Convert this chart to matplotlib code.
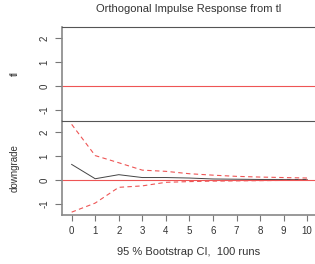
import matplotlib
matplotlib.use("Agg")
import matplotlib.pyplot as plt

plt.rcParams['font.family'] = ['Liberation Sans', 'DejaVu Sans']

steps = [0, 1, 2, 3, 4, 5, 6, 7, 8, 9, 10]
response = [0.65, 0.05, 0.22, 0.10, 0.10, 0.08, 0.04, 0.03, 0.02, 0.02, 0.02]
upper = [2.33, 1.02, 0.72, 0.41, 0.36, 0.26, 0.20, 0.15, 0.12, 0.10, 0.08]
lower = [-1.35, -0.97, -0.31, -0.25, -0.10, -0.07, -0.05, -0.04, -0.03, -0.02, 0.00]
yticks = [-1, 0, 1, 2]
panel_names = ["tl", "downgrade"]
title = "Orthogonal Impulse Response from tl"
xlabel = "95 % Bootstrap CI,  100 runs"

fig = plt.figure(figsize=(3.15, 2.64), dpi=100)
W, H = 315, 264
left = 62 / W
ax_top = fig.add_axes([left, 1 - 121 / H, 1.02 - left, (121 - 27) / H])
ax_bot = fig.add_axes([left, 1 - 215 / H, 1.02 - left, (215 - 121) / H])

ylim = (-1.47, 2.47)
xlim = (-0.41, 10.6)
txtc = '#333333'
for ax, name in zip([ax_top, ax_bot], panel_names):
    ax.set_ylim(*ylim)
    ax.set_xlim(*xlim)
    ax.axhline(0, color='#ee5555', lw=0.8)
    ax.set_yticks(yticks)
    ax.set_yticklabels([str(t) for t in yticks], rotation=90, va='center',
                       fontsize=7, color=txtc)
    ax.tick_params(axis='y', length=5, width=0.8, color='#777777', pad=4)
    ax.spines['right'].set_visible(False)
    ax.spines['left'].set_color('#888888')
    ax.spines['left'].set_linewidth(1.2)
    ax.spines['top'].set_color('#555555')
    ax.spines['top'].set_linewidth(0.8)
    ax.set_ylabel(name, fontsize=7, color=txtc)
    ax.yaxis.set_label_coords(-(62 - 20) / (W * (1.02 - left)), 0.5)

ax_top.spines['bottom'].set_visible(False)
ax_top.set_xticks([])

ax_bot.plot(steps, response, color='#444444', lw=0.7)
ax_bot.plot(steps, upper, color='#ee5555', lw=0.8, ls=(0, (4, 3)))
ax_bot.plot(steps, lower, color='#ee5555', lw=0.8, ls=(0, (4, 3)))
ax_bot.set_xticks(steps)
ax_bot.set_xticklabels([str(s) for s in steps], fontsize=7, color=txtc)
ax_bot.tick_params(axis='x', length=4, width=0.8, color='#777777', pad=4)
ax_bot.spines['bottom'].set_color('#888888')
ax_bot.spines['bottom'].set_linewidth(1.2)

fig.text(189 / W, 1 - 9 / H, title, ha='center', va='center', fontsize=8, color=txtc)
fig.text(189 / W, 1 - 252 / H, xlabel, ha='center', va='center', fontsize=8, color=txtc)

fig.savefig("out.png", dpi=100)
